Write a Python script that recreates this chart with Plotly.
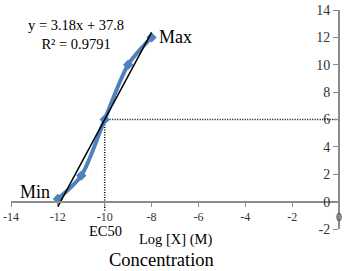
import plotly.graph_objects as go

# data
log_x = [-12, -11, -10, -9, -8]
response = [0.2, 1.9, 6.0, 10.0, 12.0]
slope, intercept = 3.18, 37.8
trend_x = [-12, -8]
ec50_x = -10
ec50_y = 6
x_ticks = [-14, -12, -10, -8, -6, -4, -2, 0]
y_ticks = [-2, 0, 2, 4, 6, 8, 10, 12, 14]

serif = "Liberation Serif, Times New Roman, serif"
fig = go.Figure()

# dotted guides
fig.add_trace(go.Scatter(x=[ec50_x, 0], y=[ec50_y, ec50_y], mode="lines",
                         line=dict(color="black", width=1.5, dash="1px,1.5px"),
                         showlegend=False, hoverinfo="skip", cliponaxis=False))
fig.add_trace(go.Scatter(x=[ec50_x, ec50_x], y=[ec50_y, -0.75], mode="lines",
                         line=dict(color="black", width=1.5, dash="1px,1.5px"),
                         showlegend=False, hoverinfo="skip", cliponaxis=False))

# data line
fig.add_trace(go.Scatter(x=log_x, y=response, mode="lines+markers",
                         line=dict(color="#4F81BD", width=4, shape="spline", smoothing=0.8),
                         marker=dict(symbol="diamond", size=8, color="#4F81BD"),
                         showlegend=False))
# trendline
fig.add_trace(go.Scatter(x=trend_x, y=[slope * v + intercept for v in trend_x],
                         mode="lines", line=dict(color="black", width=1.5),
                         showlegend=False, cliponaxis=False))

tick_txt = lambda vals: [str(v).replace("−", "-") for v in vals]

fig.update_layout(
    width=345, height=271,
    margin=dict(l=8, r=3, t=10, b=42),
    plot_bgcolor="white", paper_bgcolor="white",
    font=dict(family=serif, color="#333333", size=12),
    xaxis=dict(range=[-14, 0], tickvals=x_ticks, ticktext=tick_txt(x_ticks),
               anchor="free", position=0.125, ticklabeloverflow="allow",
               showline=True, linecolor="#8c8c8c", linewidth=2, ticks="outside",
               ticklen=4, tickcolor="#8c8c8c", showgrid=False, zeroline=False,
               tickfont=dict(size=12, family=serif, color="#333333")),
    yaxis=dict(range=[-2, 14], tickvals=y_ticks, ticktext=tick_txt(y_ticks),
               anchor="free", position=1.0, ticklabeloverflow="allow",
               side="left", showline=True, linecolor="#8c8c8c", linewidth=2,
               ticks="outside", ticklen=5, tickcolor="#8c8c8c", showgrid=False,
               zeroline=False, tickfont=dict(size=14, family=serif, color="#333333")),
    annotations=[
        dict(x=-12.97, y=0.73, text="Min", showarrow=False,
             font=dict(size=18, family=serif, color="black")),
        dict(x=-6.96, y=12.0, text="Max", showarrow=False,
             font=dict(size=18, family=serif, color="black")),
        dict(x=0.287, y=-0.009, xref="paper", yref="paper", xanchor="center", yanchor="middle",
             text="EC50", showarrow=False, font=dict(size=14.5, family=serif, color="black")),
        dict(x=0.5, y=-0.046, xref="paper", yref="paper", xanchor="center", yanchor="middle",
             text="Log [X] (M)", showarrow=False, font=dict(size=14.5, family=serif, color="black")),
        dict(x=0.458, y=-0.142, xref="paper", yref="paper", xanchor="center", yanchor="middle",
             text="Concentration", showarrow=False, font=dict(size=18.5, family=serif, color="black")),
        dict(x=-11.21, y=12.23, text="y = 3.18x + 37.8<br>R² = 0.9791", showarrow=False,
             align="center", xanchor="center", yanchor="middle",
             font=dict(size=14.5, family=serif, color="black")),
    ],
)

fig.write_html("out.html")
